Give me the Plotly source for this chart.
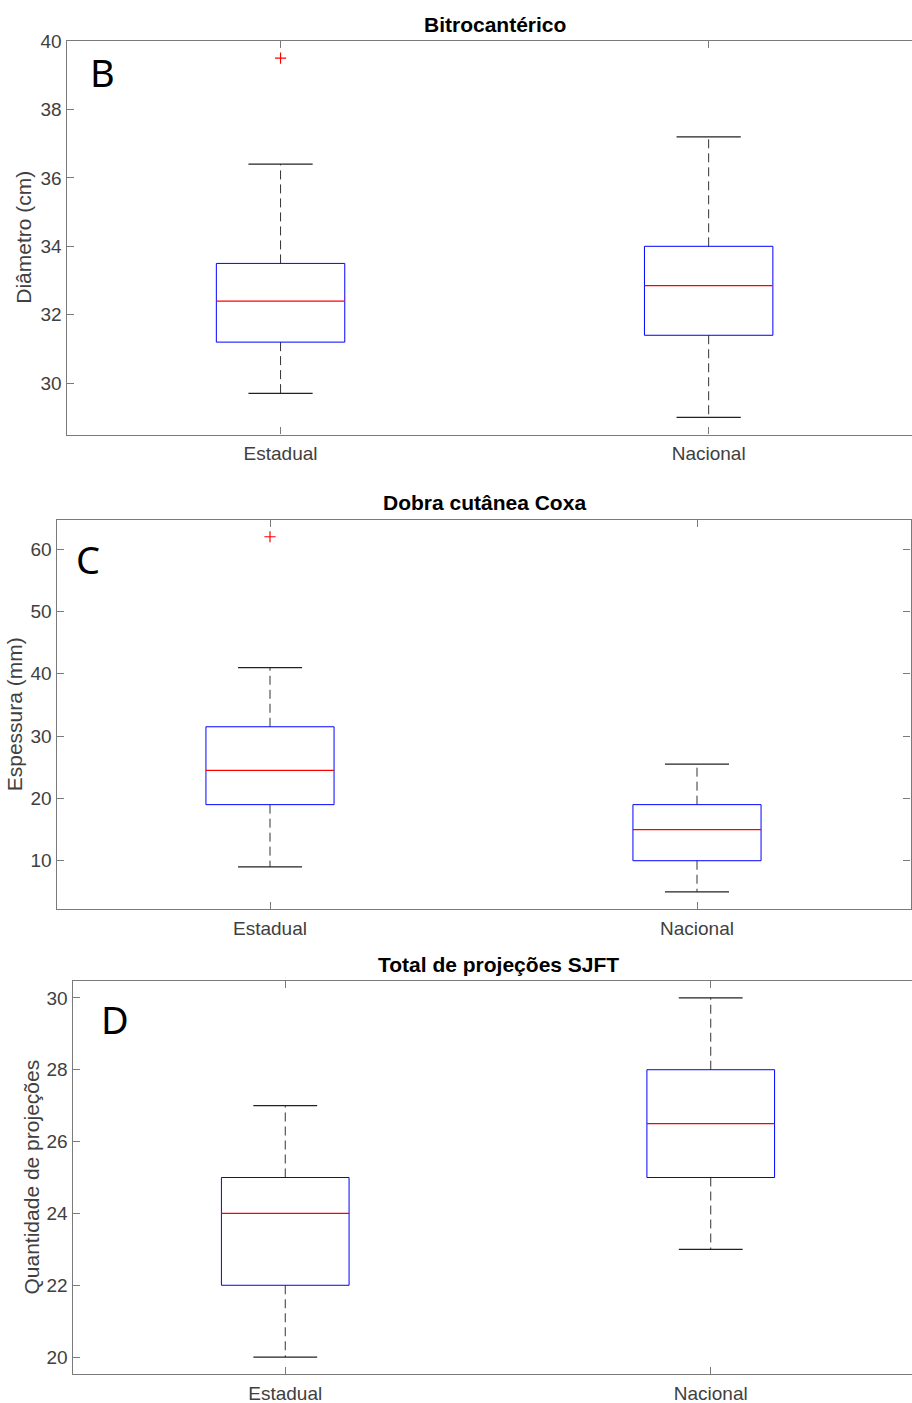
import plotly.graph_objects as go

# ---------------- data ----------------
categories = ["Estadual", "Nacional"]
positions = [1, 2]

bitro_lower = [29.7, 29.0]
bitro_q1 = [31.2, 31.4]
bitro_median = [32.4, 32.85]
bitro_q3 = [33.5, 34.0]
bitro_upper = [36.4, 37.2]
bitro_outliers = [[39.5], []]

dobra_lower = [9.0, 5.0]
dobra_q1 = [19.0, 10.0]
dobra_median = [24.5, 15.0]
dobra_q3 = [31.5, 19.0]
dobra_upper = [41.0, 25.5]
dobra_outliers = [[62.0], []]

sjft_lower = [20.0, 23.0]
sjft_q1 = [22.0, 25.0]
sjft_median = [24.0, 26.5]
sjft_q3 = [25.0, 28.0]
sjft_upper = [27.0, 30.0]
sjft_outliers = [[], []]

titles = ["Bitrocantérico", "Dobra cutânea Coxa", "Total de projeções SJFT"]
ylabels = ["Diâmetro (cm)", "Espessura (mm)", "Quantidade de projeções"]
panel_letters = ["B", "C", "D"]

# ---------------- layout helpers ----------------
W, H = 912, 1403
def px_x(x):
    return x / W
def px_y(y):
    return 1 - y / H

BOX_W = 0.3
CAP_HALF = 0.075
AXIS_COLOR = "#7a7a7a"
TICK_FONT = dict(family="Liberation Sans, Arial, sans-serif", size=19, color="#404040")

fig = go.Figure()

panels = [
    dict(lower=bitro_lower, q1=bitro_q1, med=bitro_median, q3=bitro_q3, upper=bitro_upper,
         out=bitro_outliers, xa="x", ya="y"),
    dict(lower=dobra_lower, q1=dobra_q1, med=dobra_median, q3=dobra_q3, upper=dobra_upper,
         out=dobra_outliers, xa="x2", ya="y2"),
    dict(lower=sjft_lower, q1=sjft_q1, med=sjft_median, q3=sjft_q3, upper=sjft_upper,
         out=sjft_outliers, xa="x3", ya="y3"),
]

for p in panels:
    for i, pos in enumerate(positions):
        lo, hi = pos - BOX_W / 2, pos + BOX_W / 2
        # dashed whiskers
        fig.add_trace(go.Scatter(
            x=[pos, pos, None, pos, pos],
            y=[p["q3"][i], p["upper"][i], None, p["q1"][i], p["lower"][i]],
            mode="lines", line=dict(color="#333333", width=1, dash="9px,5px"),
            showlegend=False, hoverinfo="skip", xaxis=p["xa"], yaxis=p["ya"],
        ))
        # whisker caps
        fig.add_trace(go.Scatter(
            x=[pos - CAP_HALF, pos + CAP_HALF, None, pos - CAP_HALF, pos + CAP_HALF],
            y=[p["upper"][i], p["upper"][i], None, p["lower"][i], p["lower"][i]],
            mode="lines", line=dict(color="#222222", width=1.3),
            showlegend=False, hoverinfo="skip", xaxis=p["xa"], yaxis=p["ya"],
        ))
        # box body (blue outline)
        fig.add_trace(go.Scatter(
            x=[lo, hi, hi, lo, lo],
            y=[p["q1"][i], p["q1"][i], p["q3"][i], p["q3"][i], p["q1"][i]],
            mode="lines", line=dict(color="#0000ff", width=1),
            showlegend=False, hoverinfo="skip", xaxis=p["xa"], yaxis=p["ya"],
        ))
        # median (red)
        fig.add_trace(go.Scatter(
            x=[lo, hi], y=[p["med"][i], p["med"][i]],
            mode="lines", line=dict(color="#ff0000", width=1.2),
            showlegend=False, hoverinfo="skip", xaxis=p["xa"], yaxis=p["ya"],
        ))
        # outliers
        if p["out"][i]:
            fig.add_trace(go.Scatter(
                x=[pos] * len(p["out"][i]), y=p["out"][i], mode="markers",
                marker=dict(symbol="cross-thin", size=8,
                            line=dict(color="#ff0000", width=1.2)),
                showlegend=False, hoverinfo="skip", xaxis=p["xa"], yaxis=p["ya"],
            ))

# axes geometry (pixels)
geo = [
    dict(l=66.5, r=912, t=41, b=434.5, xr=[0.5, 2.475], yr=[28.5, 40.0],
         yt=[30, 32, 34, 36, 38, 40], rb=False, title_cx=494.5, title_y=24,
         lab_x=24, letter=(102, 74)),
    dict(l=56.5, r=910.5, t=519.5, b=909, xr=[0.5, 2.5], yr=[2.25, 64.77],
         yt=[10, 20, 30, 40, 50, 60], rb=True, title_cx=484, title_y=503,
         lab_x=14, letter=(88, 561)),
    dict(l=72.5, r=912, t=981, b=1374, xr=[0.5, 2.473], yr=[19.53, 30.47],
         yt=[20, 22, 24, 26, 28, 30], rb=False, title_cx=498, title_y=964,
         lab_x=31, letter=(115, 1021)),
]

layout_axes = {}
annotations = []
for k, g in enumerate(geo):
    sfx = "" if k == 0 else str(k + 1)
    layout_axes["xaxis" + sfx] = dict(
        domain=[px_x(g["l"]), min(1.0, px_x(g["r"]))],
        anchor="y" + sfx, range=g["xr"], automargin=False,
        tickvals=positions, ticktext=categories, ticklabelstandoff=2,
        ticks="inside", ticklen=7, tickcolor=AXIS_COLOR, tickwidth=1,
        showline=True, linecolor=AXIS_COLOR, linewidth=1.3, mirror="ticks",
        showgrid=False, zeroline=False, tickfont=TICK_FONT, fixedrange=True,
    )
    layout_axes["yaxis" + sfx] = dict(
        domain=[px_y(g["b"]), px_y(g["t"])],
        anchor="x" + sfx, range=g["yr"], automargin=False,
        tickvals=g["yt"], ticktext=[str(v) for v in g["yt"]],
        ticks="inside", ticklen=7, tickcolor=AXIS_COLOR, tickwidth=1,
        showline=True, linecolor=AXIS_COLOR, linewidth=1.3,
        mirror="ticks" if g["rb"] else False,
        showgrid=False, zeroline=False, tickfont=TICK_FONT, fixedrange=True,
    )
    annotations.append(dict(
        text="<b>" + titles[k] + "</b>", x=px_x(g["title_cx"]), y=px_y(g["title_y"]),
        xref="paper", yref="paper", xanchor="center", yanchor="middle",
        showarrow=False, font=dict(family="Liberation Sans, Arial, sans-serif",
                                   size=21, color="#000000"),
    ))
    annotations.append(dict(
        text=ylabels[k], x=px_x(g["lab_x"]), y=px_y((g["t"] + g["b"]) / 2),
        xref="paper", yref="paper", xanchor="center", yanchor="middle",
        textangle=-90, showarrow=False,
        font=dict(family="Liberation Sans, Arial, sans-serif", size=21, color="#404040"),
    ))
    annotations.append(dict(
        text=panel_letters[k], x=px_x(g["letter"][0]), y=px_y(g["letter"][1] - 2),
        xref="paper", yref="paper", xanchor="center", yanchor="middle",
        showarrow=False, font=dict(family="Noto Sans, sans-serif", size=38, color="#000000"),
    ))

fig.update_layout(
    width=W, height=H, margin=dict(l=0, r=0, t=0, b=0, autoexpand=False),
    paper_bgcolor="white", plot_bgcolor="white", showlegend=False,
    annotations=annotations, **layout_axes,
)

fig.write_html("out.html", config={"displayModeBar": False})
